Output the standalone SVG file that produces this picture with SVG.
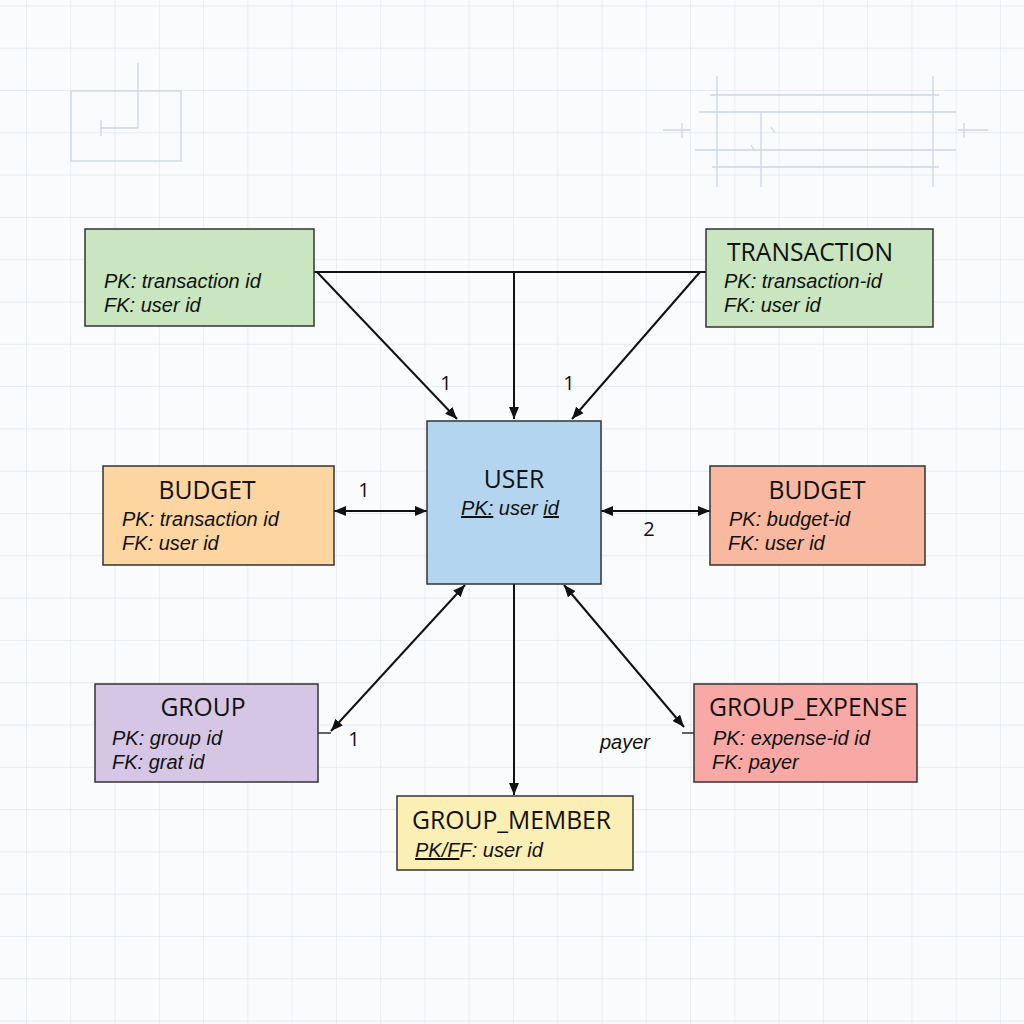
<svg xmlns="http://www.w3.org/2000/svg" width="1024" height="1024" viewBox="0 0 1024 1024">
<defs>
<pattern id="grid" x="26" y="5.4" width="44.27" height="42.3" patternUnits="userSpaceOnUse">
<path d="M0 0V42.3M0 0H44.27" fill="none" stroke="#e1e7ef" stroke-width="1.3"/>
</pattern>
<marker id="arr" viewBox="0 0 12 10" refX="12" refY="5" markerWidth="12" markerHeight="10" markerUnits="userSpaceOnUse" orient="auto-start-reverse">
<path d="M0 0L12 5L0 10Z" fill="#111"/>
</marker>
<style>
.box{stroke:#333;stroke-width:1.5}
.t{font-family:"Open Sans","Noto Sans",sans-serif;font-size:24.7px;fill:#111}
.a{font-family:"Liberation Sans",Arial,sans-serif;font-size:20px;font-style:italic;fill:#111}
.n{font-family:"Open Sans","Noto Sans",sans-serif;font-size:20px;fill:#111}
.c{fill:none;stroke:#111;stroke-width:2}
.d{fill:none;stroke:#cad6e7;stroke-width:1.3}
.u{text-decoration:underline}
</style>
</defs>
<rect width="1024" height="1024" fill="#fafbfc"/>
<rect width="1024" height="1024" fill="url(#grid)"/>
<g id="decor">
<rect x="71" y="91" width="110" height="70" class="d"/>
<path d="M138 63V128H100M101 120V136" class="d"/>
<path d="M717 76V187M761 112V187M933 76V187M710 95H939M699 112H956M695 150H956M712 167H939M663 130H690M682 123V138M958 130H988M964 123V138M771 127L775 133M751 145L754 150" class="d"/>
</g>
<g id="connectors">
<path d="M314 272H706" class="c"/>
<path d="M317 272L457 419" class="c" marker-end="url(#arr)"/>
<path d="M514 272V419" class="c" marker-end="url(#arr)"/>
<path d="M700 272L572 419" class="c" marker-end="url(#arr)"/>
<path d="M334 511H427" class="c" marker-start="url(#arr)" marker-end="url(#arr)"/>
<path d="M601 511H710" class="c" marker-start="url(#arr)" marker-end="url(#arr)"/>
<path d="M465 585L331 731" class="c" marker-start="url(#arr)" marker-end="url(#arr)"/>
<path d="M318 733H331" fill="none" stroke="#333" stroke-width="1.5"/>
<path d="M564 585L684 727" class="c" marker-start="url(#arr)" marker-end="url(#arr)"/>
<path d="M682 733H694" fill="none" stroke="#333" stroke-width="1.5"/>
<path d="M514 584V795" class="c" marker-end="url(#arr)"/>
<text x="446" y="390" class="n" text-anchor="middle">1</text>
<text x="569" y="390" class="n" text-anchor="middle">1</text>
<text x="364" y="497" class="n" text-anchor="middle">1</text>
<text x="649" y="536" class="n" text-anchor="middle">2</text>
<text x="354" y="746" class="n" text-anchor="middle">1</text>
<text x="625" y="749" class="a" text-anchor="middle">payer</text>
</g>
<g id="transaction-left">
<rect x="85" y="229" width="229" height="97" fill="#c9e6c1" class="box"/>
<text x="104" y="288" class="a">PK: transaction id</text>
<text x="104" y="312" class="a">FK: user id</text>
</g>
<g id="transaction-right">
<rect x="706" y="229" width="227" height="98" fill="#c9e6c1" class="box"/>
<text x="727" y="261" class="t">TRANSACTION</text>
<text x="724" y="288" class="a">PK: transaction-id</text>
<text x="724" y="312" class="a">FK: user id</text>
</g>
<g id="user">
<rect x="427" y="421" width="174" height="163" fill="#b4d5ef" class="box"/>
<text x="514" y="488" class="t" text-anchor="middle">USER</text>
<text x="510" y="515" class="a" text-anchor="middle"><tspan class="u">PK:</tspan> user <tspan class="u">id</tspan></text>
</g>
<g id="budget-left">
<rect x="103" y="466" width="231" height="99" fill="#fdd5a1" class="box"/>
<text x="207" y="499" class="t" text-anchor="middle">BUDGET</text>
<text x="122" y="526" class="a">PK: transaction id</text>
<text x="122" y="550" class="a">FK: user id</text>
</g>
<g id="budget-right">
<rect x="710" y="466" width="215" height="99" fill="#f9b9a0" class="box"/>
<text x="817" y="499" class="t" text-anchor="middle">BUDGET</text>
<text x="729" y="526" class="a">PK: budget-id</text>
<text x="728" y="550" class="a">FK: user id</text>
</g>
<g id="group">
<rect x="95" y="684" width="223" height="98" fill="#d6c6e5" class="box"/>
<text x="203" y="716" class="t" text-anchor="middle">GROUP</text>
<text x="112" y="745" class="a">PK: group id</text>
<text x="112" y="769" class="a">FK: grat id</text>
</g>
<g id="group-expense">
<rect x="694" y="684" width="223" height="98" fill="#f8a9a6" class="box"/>
<text x="709" y="716" class="t">GROUP_EXPENSE</text>
<text x="713" y="745" class="a">PK: expense-id id</text>
<text x="712" y="769" class="a">FK: payer</text>
</g>
<g id="group-member">
<rect x="397" y="796" width="236" height="74" fill="#fcefb6" class="box"/>
<text x="412" y="829" class="t">GROUP_MEMBER</text>
<text x="415" y="857" class="a"><tspan class="u">PK/F</tspan>F: user id</text>
</g>
</svg>
